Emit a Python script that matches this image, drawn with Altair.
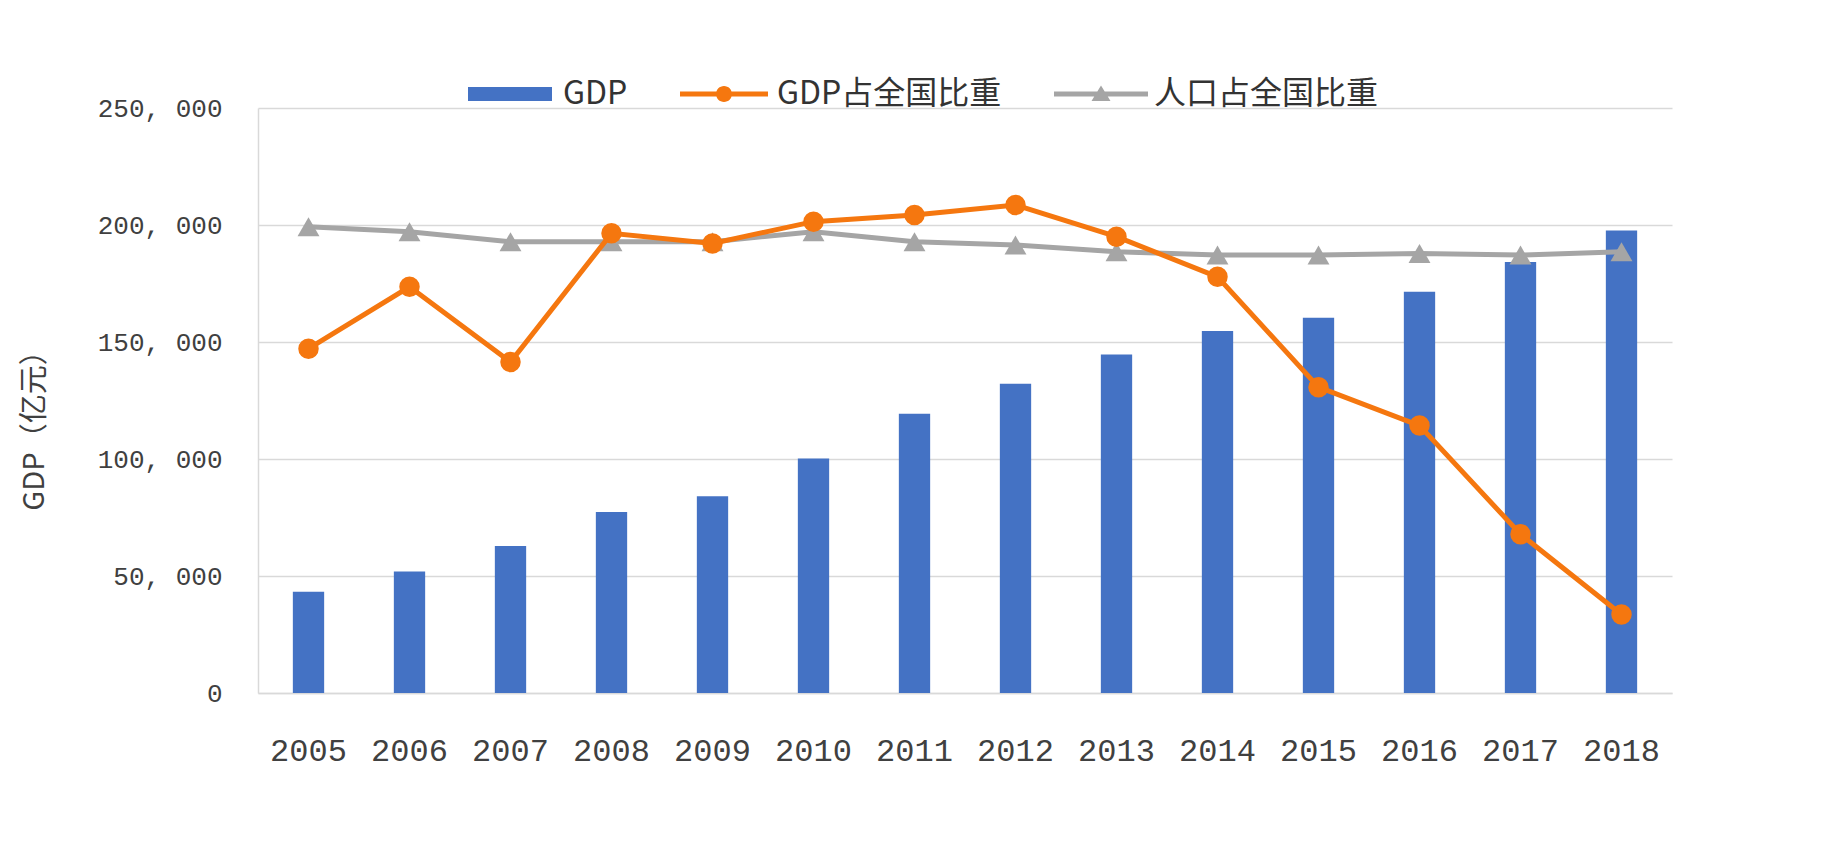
import altair as alt
import pandas as pd

# ---- data ----
years = [str(y) for y in range(2005, 2019)]
gdp = [43300, 51900, 62800, 77400, 84100, 100200, 119300,
       132200, 144700, 154700, 160400, 171500, 184200, 197600]
gdp_share = [23.56, 23.93, 23.48, 24.25, 24.19, 24.32, 24.36,
             24.42, 24.23, 23.99, 23.33, 23.10, 22.45, 21.97]
pop_share = [24.29, 24.26, 24.20, 24.20, 24.20, 24.26, 24.20,
             24.18, 24.14, 24.12, 24.12, 24.13, 24.12, 24.14]

series = ["GDP", "GDP占全国比重", "人口占全国比重"]
series_colors = ["#4472C4", "#F5770F", "#A5A5A5"]
legend_shapes = [
    "M-4.2,-0.7H4.2V0.7H-4.2Z",
    "M-4.4,-0.25H4.4V0.25H-4.4Z M0.8,0A0.8,0.8,0,1,1,-0.8,0A0.8,0.8,0,1,1,0.8,0Z",
    "M-4.7,-0.25H4.7V0.25H-4.7Z M0,-0.85L0.95,0.7H-0.95Z",
]
left_ticks = [0, 50000, 100000, 150000, 200000, 250000]
right_ticks = [21.5, 22.0, 22.5, 23.0, 23.5, 24.0, 24.5, 25.0]

df = pd.DataFrame({"year": years, "gdp": gdp,
                   "gdp_share": gdp_share, "pop_share": pop_share})
legend_df = pd.DataFrame({"series": series})

MONO = "Liberation Mono"
CJK = "Noto Sans CJK SC"
LABEL_COLOR = "#404040"

x_enc = alt.X(
    "year:N", sort=None, title=None,
    scale=alt.Scale(paddingInner=0.69, paddingOuter=0.345),
    axis=alt.Axis(labelAngle=0, labelFont=MONO, labelFontSize=32,
                  labelColor=LABEL_COLOR, labelPadding=42, ticks=False,
                  domain=True, domainColor="#D9D9D9", domainWidth=1.5,
                  grid=False),
)

bars = alt.Chart(df).mark_bar(color=series_colors[0]).encode(
    x=x_enc,
    y=alt.Y("gdp:Q",
            scale=alt.Scale(domain=[0, 250000], nice=False),
            axis=alt.Axis(values=left_ticks, orient="left",
                          title="GDP（亿元）", titleFont=CJK,
                          titleFontSize=29, titleFontWeight="normal",
                          titleColor="#404040", titleAngle=-90,
                          titleAlign="center", titleBaseline="middle",
                          titleX=-224, titleY=315,
                          labelFont=MONO, labelFontSize=26,
                          labelColor=LABEL_COLOR, labelPadding=36,
                          labelExpr="replace(format(datum.value, ','), ',', ', ')",
                          ticks=False, domain=True, domainColor="#D9D9D9",
                          domainWidth=1.5, grid=True, gridColor="#D9D9D9",
                          gridWidth=1.5)),
)

right_scale = alt.Scale(domain=[21.5, 25.0], nice=False, zero=False)

gdp_line = alt.Chart(df).mark_line(color=series_colors[1], strokeWidth=5).encode(
    x="year:N",
    y=alt.Y("gdp_share:Q", scale=right_scale,
            axis=alt.Axis(values=right_ticks, orient="right", title=None,
                          labelFont=MONO, labelFontSize=26,
                          labelColor=LABEL_COLOR, labelPadding=38,
                          labelExpr="replace(format(datum.value, '.1f'), '.', '. ')",
                          ticks=False, domain=False, grid=False)),
)
gdp_pts = alt.Chart(df).mark_point(filled=True, opacity=1, shape="circle",
                                   size=420, color=series_colors[1]).encode(
    x="year:N",
    y=alt.Y("gdp_share:Q", scale=right_scale, axis=None),
)
pop_line = alt.Chart(df).mark_line(color=series_colors[2], strokeWidth=5).encode(
    x="year:N",
    y=alt.Y("pop_share:Q", scale=right_scale, axis=None),
)
pop_pts = alt.Chart(df).mark_point(filled=True, opacity=1, shape="triangle-up",
                                   size=480, color=series_colors[2]).encode(
    x="year:N",
    y=alt.Y("pop_share:Q", scale=right_scale, axis=None),
)

lines = alt.layer(pop_line, pop_pts, gdp_line, gdp_pts)

legend_cfg = dict(title=None, orient="none", legendX=236, legendY=-30,
                  direction="horizontal", symbolSize=400, symbolOpacity=1,
                  symbolStrokeWidth=0, labelFont=CJK, labelFontSize=32,
                  labelColor="#333333", labelLimit=0, labelOffset=37,
                  columnPadding=52, gridAlign="none", padding=0)

legend_layer = alt.Chart(legend_df).mark_point(filled=True, opacity=0).encode(
    color=alt.Color("series:N",
                    scale=alt.Scale(domain=series, range=series_colors),
                    legend=alt.Legend(**legend_cfg)),
    shape=alt.Shape("series:N",
                    scale=alt.Scale(domain=series, range=legend_shapes),
                    legend=alt.Legend(**legend_cfg)),
)

chart = alt.layer(bars, lines, legend_layer).resolve_scale(
    y="independent"
).properties(
    width=1414, height=585,
    autosize=alt.AutoSizeParams(type="none"),
    padding={"left": 250, "top": 100, "right": 150, "bottom": 100},
    background="white",
).configure_view(stroke=None)

chart.save("out.html", embed_options={"renderer": "svg", "actions": False})
